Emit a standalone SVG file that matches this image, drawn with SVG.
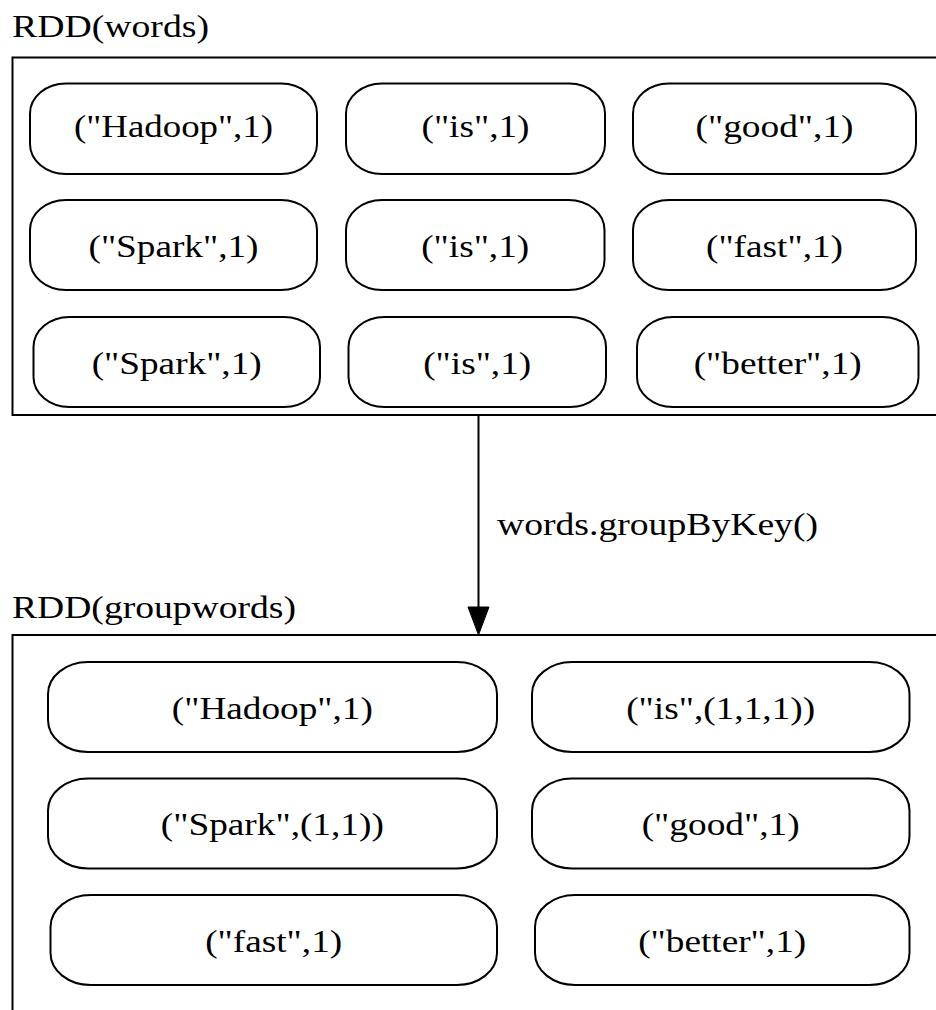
<svg xmlns="http://www.w3.org/2000/svg" width="936" height="1010" viewBox="0 0 936 1010">
<style>
.cl{fill:none;stroke:#000;stroke-width:2}
.nd{fill:#fff;stroke:#000;stroke-width:2}
text{font-family:"Liberation Serif","Times New Roman",serif;font-size:32px;fill:#000}
.c{text-anchor:middle}
.edge{stroke:#000;stroke-width:2;fill:none}
</style>
<rect width="936" height="1010" fill="#fff"/>
<g id="cluster_words">
<rect class="cl" x="12.5" y="57.5" width="940" height="357.5"/>
<text x="12" y="37" textLength="197" lengthAdjust="spacingAndGlyphs">RDD(words)</text>
</g>
<g id="cluster_groupwords">
<rect class="cl" x="12.5" y="635" width="940" height="400"/>
<text x="12" y="618" textLength="284" lengthAdjust="spacingAndGlyphs">RDD(groupwords)</text>
</g>
<g id="w1"><rect class="nd" x="30" y="83.5" width="287" height="90.5" rx="36" ry="30"/><text class="c" x="173.5" y="137" textLength="199" lengthAdjust="spacingAndGlyphs">("Hadoop",1)</text></g>
<g id="w2"><rect class="nd" x="346" y="83.5" width="259" height="90.5" rx="36" ry="30"/><text class="c" x="475.5" y="137" textLength="108" lengthAdjust="spacingAndGlyphs">("is",1)</text></g>
<g id="w3"><rect class="nd" x="633" y="83.5" width="283" height="90.5" rx="36" ry="30"/><text class="c" x="774.5" y="137" textLength="158" lengthAdjust="spacingAndGlyphs">("good",1)</text></g>
<g id="w4"><rect class="nd" x="30" y="200" width="287" height="90" rx="36" ry="30"/><text class="c" x="173.5" y="257" textLength="170" lengthAdjust="spacingAndGlyphs">("Spark",1)</text></g>
<g id="w5"><rect class="nd" x="346" y="200" width="258.5" height="90" rx="36" ry="30"/><text class="c" x="475.2" y="257" textLength="108" lengthAdjust="spacingAndGlyphs">("is",1)</text></g>
<g id="w6"><rect class="nd" x="633" y="200" width="283" height="90" rx="36" ry="30"/><text class="c" x="774.5" y="257" textLength="137" lengthAdjust="spacingAndGlyphs">("fast",1)</text></g>
<g id="w7"><rect class="nd" x="33.5" y="317" width="286.5" height="90" rx="36" ry="30"/><text class="c" x="176.7" y="374" textLength="170" lengthAdjust="spacingAndGlyphs">("Spark",1)</text></g>
<g id="w8"><rect class="nd" x="348.5" y="317" width="257.5" height="90" rx="36" ry="30"/><text class="c" x="477.2" y="374" textLength="108" lengthAdjust="spacingAndGlyphs">("is",1)</text></g>
<g id="w9"><rect class="nd" x="637" y="317" width="281.5" height="90" rx="36" ry="30"/><text class="c" x="777.7" y="374" textLength="168" lengthAdjust="spacingAndGlyphs">("better",1)</text></g>
<g id="g1"><rect class="nd" x="48" y="662" width="449" height="90" rx="40" ry="32"/><text class="c" x="272.3" y="719" textLength="201" lengthAdjust="spacingAndGlyphs">("Hadoop",1)</text></g>
<g id="g2"><rect class="nd" x="532" y="662" width="377.5" height="90" rx="40" ry="32"/><text class="c" x="720.7" y="719" textLength="189" lengthAdjust="spacingAndGlyphs">("is",(1,1,1))</text></g>
<g id="g3"><rect class="nd" x="48" y="778.5" width="449" height="90" rx="40" ry="32"/><text class="c" x="272.3" y="835" textLength="223" lengthAdjust="spacingAndGlyphs">("Spark",(1,1))</text></g>
<g id="g4"><rect class="nd" x="532" y="778.5" width="377.5" height="90" rx="40" ry="32"/><text class="c" x="720.7" y="835" textLength="158" lengthAdjust="spacingAndGlyphs">("good",1)</text></g>
<g id="g5"><rect class="nd" x="50.5" y="895" width="446.5" height="90" rx="40" ry="32"/><text class="c" x="273.7" y="952" textLength="137" lengthAdjust="spacingAndGlyphs">("fast",1)</text></g>
<g id="g6"><rect class="nd" x="535" y="895" width="374.5" height="90" rx="40" ry="32"/><text class="c" x="722.2" y="952" textLength="168" lengthAdjust="spacingAndGlyphs">("better",1)</text></g>
<g id="edges">
<line class="edge" x1="478.5" y1="415" x2="478.5" y2="608"/>
<polygon points="468,607 489,607 478.5,635" fill="#000" stroke="#000" stroke-width="1"/>
<text x="497" y="535" textLength="321" lengthAdjust="spacingAndGlyphs">words.groupByKey()</text>
</g>
</svg>
